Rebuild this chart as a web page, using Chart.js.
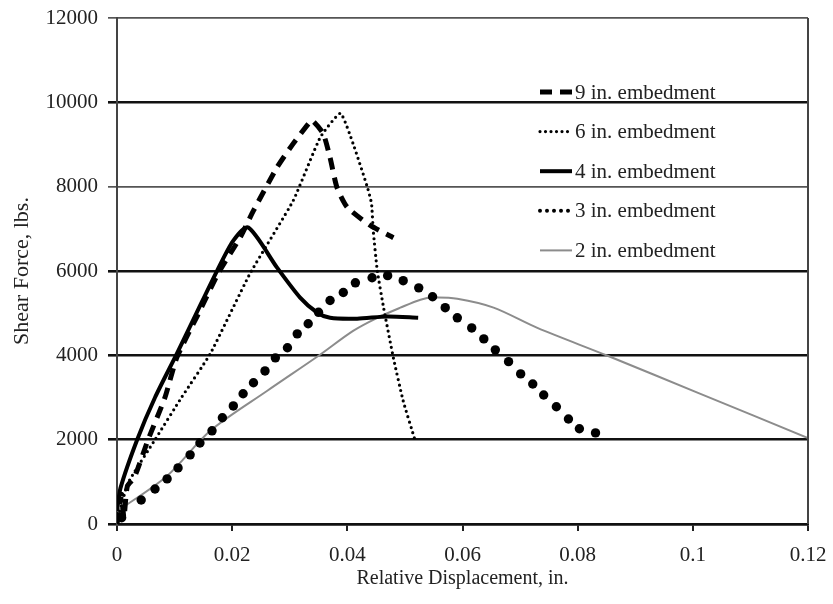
<!DOCTYPE html>
<html>
<head>
<meta charset="utf-8">
<script src="https://cdn.jsdelivr.net/npm/chart.js@4.4.1/dist/chart.umd.min.js"></script>
<style>
  body { margin: 0; background: #fff; }
  #wrap { width: 833px; height: 604px; }
</style>
</head>
<body>
<div id="wrap"><canvas id="myChart" width="833" height="604"></canvas></div>
<script>
// series: displacement (in.) and shear force (lbs.)
const seriesLabels = ['9 in. embedment', '6 in. embedment', '4 in. embedment', '3 in. embedment', '2 in. embedment'];

const disp9  = [0, 0.0008, 0.0012, 0.0018, 0.003, 0.0054, 0.0083, 0.0104, 0.014, 0.0176, 0.0214, 0.0237, 0.0278, 0.0306, 0.0333, 0.0339, 0.0358, 0.037, 0.0382, 0.040, 0.044, 0.048];
const force9 = [0, 700, 150, 900, 1100, 2000, 2990, 3950, 4950, 5950, 6800, 7430, 8460, 9020, 9500, 9570, 9260, 8690, 7980, 7510, 7080, 6790];

const disp6  = [0.0005, 0.0019, 0.0066, 0.0112, 0.0162, 0.0231, 0.0306, 0.0353, 0.0388, 0.041, 0.0435, 0.0442, 0.0445, 0.0452, 0.0463, 0.048, 0.0497, 0.0518];
const force6 = [300, 970, 2000, 3000, 4040, 5940, 7670, 9170, 9740, 9020, 7980, 7600, 6960, 6010, 5130, 3940, 2920, 1970];

const disp4  = [0, 0.0006, 0.0035, 0.0066, 0.0104, 0.0138, 0.0174, 0.0202, 0.0228, 0.0278, 0.0318, 0.0348, 0.037, 0.0417, 0.047, 0.0523];
const force4 = [300, 850, 2000, 3000, 4040, 5000, 6010, 6720, 7030, 6080, 5370, 5010, 4890, 4870, 4920, 4890];

const disp3  = [0.0008, 0.0042, 0.0066, 0.0087, 0.0106, 0.0127, 0.0144, 0.0165, 0.0183, 0.0202, 0.0219, 0.0237, 0.0257, 0.0275, 0.0296, 0.0313, 0.0332, 0.035, 0.037, 0.0393, 0.0414, 0.0443, 0.047, 0.0497, 0.0524, 0.0548, 0.057, 0.0591, 0.0616, 0.0637, 0.0657, 0.068, 0.0701, 0.0722, 0.0741, 0.0763, 0.0784, 0.0803, 0.0831];
const force3 = [150, 570, 830, 1070, 1330, 1640, 1920, 2210, 2520, 2800, 3090, 3350, 3630, 3940, 4180, 4510, 4750, 5020, 5300, 5490, 5720, 5840, 5890, 5770, 5600, 5390, 5130, 4890, 4650, 4390, 4130, 3850, 3560, 3320, 3060, 2780, 2490, 2260, 2160];

const disp2  = [0, 0.0087, 0.0162, 0.0261, 0.035, 0.041, 0.0452, 0.0492, 0.0527, 0.055, 0.0591, 0.0654, 0.073, 0.0852, 0.1009, 0.12];
const force2 = [300, 1140, 2210, 3160, 3990, 4580, 4890, 5130, 5320, 5370, 5340, 5130, 4650, 3990, 3110, 2040];

const xTickLabels = ['0', '0.02', '0.04', '0.06', '0.08', '0.1', '0.12'];
const yTickLabels = ['0', '2000', '4000', '6000', '8000', '10000', '12000'];

const serif = "'Liberation Serif', 'DejaVu Serif', serif";

function pts(xs, ys) {
  return xs.map((x, i) => ({ x: x, y: ys[i] }));
}

// right frame line and the in-plot legend
const framePlugin = {
  id: 'frame',
  afterDraw(chart) {
    const ctx = chart.ctx;
    const a = chart.chartArea;
    ctx.save();
    ctx.strokeStyle = '#444';
    ctx.lineWidth = 2;
    ctx.beginPath();
    ctx.moveTo(a.right, a.top);
    ctx.lineTo(a.right, a.bottom);
    ctx.stroke();

    chart.data.datasets.forEach((ds, i) => {
      const y = a.top + 74 + i * 39.6;
      const x0 = a.left + 423, x1 = a.left + 455;
      ctx.beginPath();
      if (ds.showLine === false) {
        ctx.setLineDash([0, 7]);
        ctx.lineCap = 'round';
        ctx.lineWidth = 4;
        ctx.strokeStyle = '#000';
      } else {
        ctx.setLineDash(ds.borderDash || []);
        ctx.lineCap = ds.borderCapStyle || 'butt';
        ctx.lineWidth = ds.borderWidth;
        ctx.strokeStyle = ds.borderColor;
      }
      ctx.moveTo(x0, y);
      ctx.lineTo(x1, y);
      ctx.stroke();
      ctx.setLineDash([]);
      ctx.fillStyle = '#222';
      ctx.font = '21px ' + serif;
      ctx.textBaseline = 'middle';
      ctx.textAlign = 'left';
      ctx.fillText(ds.label, x1 + 3, y + 1);
    });
    ctx.restore();
  }
};

const config = {
  type: 'scatter',
  data: {
    datasets: [
      {
        label: seriesLabels[0],
        data: pts(disp9, force9),
        showLine: true,
        borderColor: '#000',
        borderWidth: 5,
        borderDash: [12, 8],
        pointRadius: 0,
        tension: 0.2
      },
      {
        label: seriesLabels[1],
        data: pts(disp6, force6),
        showLine: true,
        borderColor: '#000',
        borderWidth: 3.2,
        borderDash: [0, 5.5],
        borderCapStyle: 'round',
        pointRadius: 0,
        tension: 0.15
      },
      {
        label: seriesLabels[2],
        data: pts(disp4, force4),
        showLine: true,
        borderColor: '#000',
        borderWidth: 4,
        pointRadius: 0,
        tension: 0.25
      },
      {
        label: seriesLabels[3],
        data: pts(disp3, force3),
        showLine: false,
        pointRadius: 4.7,
        pointBackgroundColor: '#000',
        pointBorderWidth: 0
      },
      {
        label: seriesLabels[4],
        data: pts(disp2, force2),
        showLine: true,
        borderColor: '#8c8c8c',
        borderWidth: 2,
        pointRadius: 0,
        tension: 0.3
      }
    ]
  },
  options: {
    responsive: false,
    animation: false,
    layout: {
      padding: { left: 9, top: 18, right: 25, bottom: 13 }
    },
    plugins: {
      legend: { display: false },
      tooltip: { enabled: false }
    },
    scales: {
      x: {
        type: 'linear',
        min: 0,
        max: 0.12,
        afterFit: function (scale) {
          scale.height = 67;
          scale.paddingLeft = 0;
          scale.paddingRight = 0;
        },
        ticks: {
          stepSize: 0.02,
          padding: 12,
          color: '#222',
          font: { family: serif, size: 21 },
          callback: function (value, index) { return xTickLabels[index]; }
        },
        grid: {
          drawOnChartArea: false,
          drawTicks: true,
          tickLength: 7,
          color: '#222',
          lineWidth: 2
        },
        border: { display: true, color: '#111', width: 2.5 },
        title: {
          display: true,
          text: 'Relative Displacement, in.',
          color: '#222',
          font: { family: serif, size: 20 },
          padding: 0
        }
      },
      y: {
        min: 0,
        max: 12000,
        afterFit: function (scale) {
          scale.width = 108;
          scale.paddingTop = 0;
          scale.paddingBottom = 0;
        },
        ticks: {
          stepSize: 2000,
          padding: 10,
          color: '#222',
          font: { family: serif, size: 21 },
          callback: function (value, index) { return yTickLabels[index]; }
        },
        grid: {
          tickLength: 9,
          color: function (c) {
            return (c.tick && (c.tick.value === 8000 || c.tick.value === 12000)) ? '#555' : '#111';
          },
          lineWidth: function (c) {
            return (c.tick && (c.tick.value === 8000 || c.tick.value === 12000)) ? 1.7 : 2.6;
          }
        },
        border: { display: true, color: '#444', width: 2 },
        title: {
          display: true,
          text: 'Shear Force, lbs.',
          color: '#222',
          font: { family: serif, size: 22 },
          padding: 0
        }
      }
    }
  },
  plugins: [framePlugin]
};

var chartStatus = Chart.getChart("myChart");
if (chartStatus != undefined) {
  chartStatus.destroy();
}
const myChart = new Chart(document.getElementById('myChart'), config);
</script>
</body>
</html>
